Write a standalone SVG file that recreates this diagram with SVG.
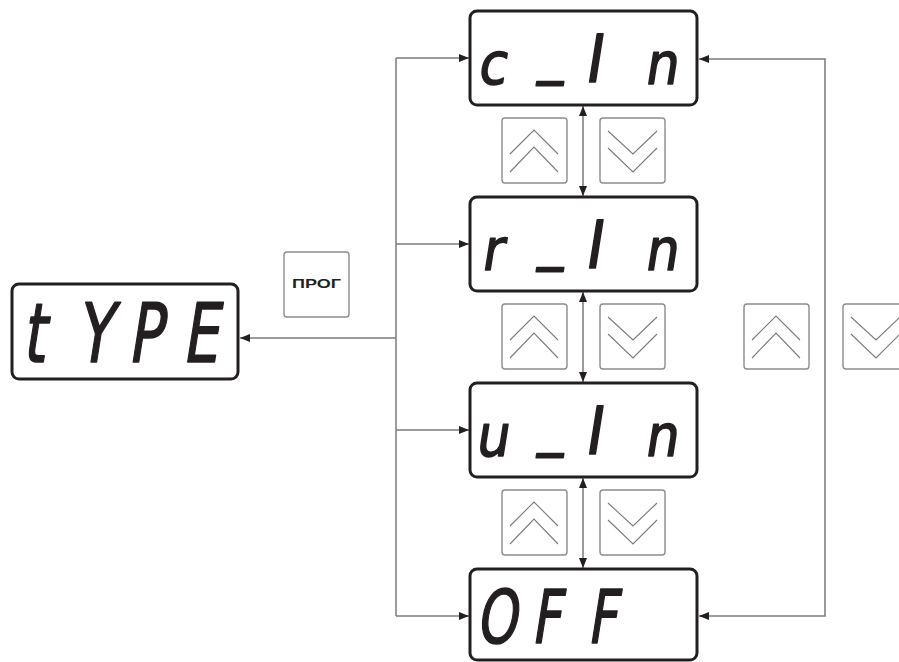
<svg xmlns="http://www.w3.org/2000/svg" width="899" height="662" viewBox="0 0 899 662">
<style>
.disp{fill:#fff;stroke:#231f20;stroke-width:3}
.btn{fill:#fff;stroke:#8c8c8c;stroke-width:1.4}
.chev{fill:none;stroke:#7a7a7a;stroke-width:1.1}
.conn{fill:none;stroke:#7a7a7a;stroke-width:1.5}
.seg{font-family:"DejaVu Sans",sans-serif;fill:#231f20;stroke:#231f20;stroke-width:1.6;stroke-linejoin:round;text-anchor:middle}
.lbl{font-family:"Liberation Sans",Arial,sans-serif;font-weight:bold;font-size:13.5px;fill:#231f20;text-anchor:middle}
</style>
<defs>
<marker id="ah" viewBox="0 0 10 8" refX="10" refY="4" markerWidth="10" markerHeight="8" markerUnits="userSpaceOnUse" orient="auto-start-reverse">
<path d="M0,0 L10,4 L0,8 Z" fill="#231f20"/>
</marker>
<g id="up">
<rect class="btn" x="0" y="0" width="65" height="65" rx="3"/>
<polyline class="chev" points="8,36 32,12 56,36"/>
<polyline class="chev" points="8,54 32,29 56,54"/>
</g>
<g id="down">
<rect class="btn" x="0" y="0" width="65" height="65" rx="3"/>
<polyline class="chev" points="8,13 33,36 57,13"/>
<polyline class="chev" points="8,30 33,54 57,30"/>
</g>
</defs>
<rect width="899" height="662" fill="#fff"/>

<g id="connectors">
<path class="conn" d="M396,58 V616"/>
<path class="conn" d="M396,58 H469" marker-end="url(#ah)"/>
<path class="conn" d="M396,244 H469" marker-end="url(#ah)"/>
<path class="conn" d="M396,430 H469" marker-end="url(#ah)"/>
<path class="conn" d="M396,616 H469" marker-end="url(#ah)"/>
<path class="conn" d="M396,338 H240" marker-end="url(#ah)"/>
<path class="conn" d="M825,338 V59 H699" marker-end="url(#ah)"/>
<path class="conn" d="M825,338 V616 H699" marker-end="url(#ah)"/>
<path class="conn" d="M583,106 V196" marker-start="url(#ah)" marker-end="url(#ah)"/>
<path class="conn" d="M583,292 V382" marker-start="url(#ah)" marker-end="url(#ah)"/>
<path class="conn" d="M583,478 V568" marker-start="url(#ah)" marker-end="url(#ah)"/>
</g>

<g id="type">
<rect class="disp" x="12" y="284" width="226" height="95" rx="7"/>
<text class="seg" font-size="82" transform="translate(0,362) skewX(-9) scale(0.7,1)"><tspan x="48" y="0">t</tspan><tspan x="134" y="0">Y</tspan><tspan x="207" y="0">P</tspan><tspan x="286" y="0">E</tspan></text>
</g>

<g id="prog">
<rect class="btn" x="284" y="252" width="65" height="65" rx="3"/>
<text class="lbl" x="316.5" y="287.5" textLength="49" lengthAdjust="spacingAndGlyphs">ПРОГ</text>
</g>

<g id="c_in">
<rect class="disp" x="470" y="11" width="227" height="94" rx="7"/>
<text class="seg" font-size="58" transform="translate(0,84) skewX(-9) scale(0.9,1)"><tspan x="546" y="0">c</tspan><tspan x="611" y="-12">_</tspan><tspan x="658" y="-2" font-size="66">I</tspan><tspan x="734" y="0">n</tspan></text>
</g>

<g id="r_in">
<rect class="disp" x="470" y="197" width="227" height="94" rx="7"/>
<text class="seg" font-size="58" transform="translate(0,270) skewX(-9) scale(0.9,1)"><tspan x="546" y="0">r</tspan><tspan x="611" y="-12">_</tspan><tspan x="658" y="-2" font-size="66">I</tspan><tspan x="734" y="0">n</tspan></text>
</g>

<g id="u_in">
<rect class="disp" x="470" y="383" width="227" height="94" rx="7"/>
<text class="seg" font-size="58" transform="translate(0,456) skewX(-9) scale(0.9,1)"><tspan x="546" y="0">u</tspan><tspan x="611" y="-12">_</tspan><tspan x="658" y="-2" font-size="66">I</tspan><tspan x="734" y="0">n</tspan></text>
</g>

<g id="off">
<rect class="disp" x="470" y="569" width="227" height="91" rx="7"/>
<text class="seg" font-size="74" transform="translate(0,643) skewX(-9) scale(0.7,1)"><tspan x="709" y="0">O</tspan><tspan x="780" y="0">F</tspan><tspan x="860" y="0">F</tspan></text>
</g>

<g id="btn-up-1"><use href="#up" x="502" y="118"/></g>
<g id="btn-down-1"><use href="#down" x="600" y="118"/></g>
<g id="btn-up-2"><use href="#up" x="502" y="304"/></g>
<g id="btn-down-2"><use href="#down" x="600" y="304"/></g>
<g id="btn-up-3"><use href="#up" x="502" y="490"/></g>
<g id="btn-down-3"><use href="#down" x="600" y="490"/></g>
<g id="btn-up-r"><use href="#up" x="744" y="304"/></g>
<g id="btn-down-r"><use href="#down" x="843" y="304"/></g>
</svg>
